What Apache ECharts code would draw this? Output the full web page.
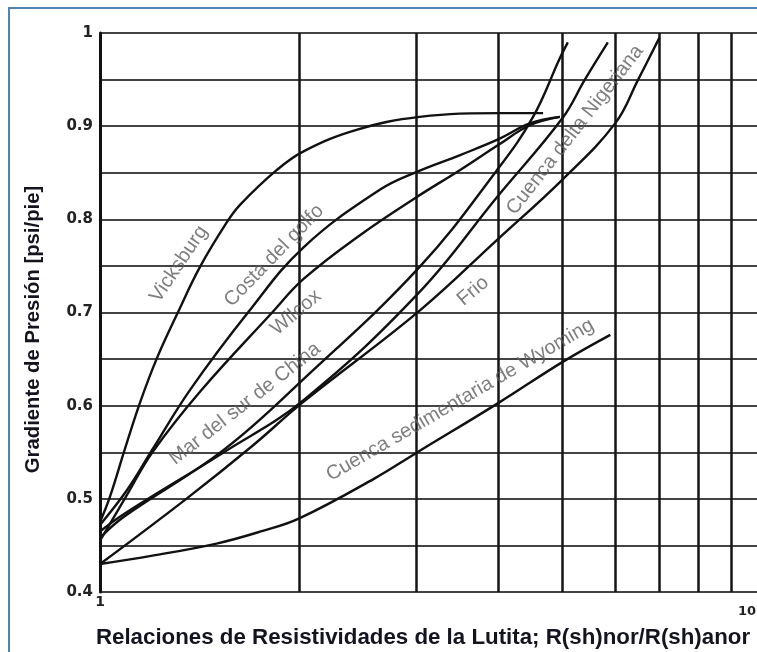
<!DOCTYPE html>
<html>
<head>
<meta charset="utf-8">
<script src="https://cdn.jsdelivr.net/npm/echarts/dist/echarts.min.js"></script>
<style>
html,body{margin:0;padding:0;background:#fff;}
#chart{width:757px;height:652px;}
</style>
</head>
<body>
<div id="chart"></div>
<script>
// ---- data (x = resistivity ratio, y = pressure gradient psi/ft) ----
const vicksburg = [[1,0.475],[1.035,0.502],[1.09,0.553],[1.149,0.603],[1.219,0.651],[1.311,0.70],[1.416,0.749],[1.555,0.797],[1.63,0.816],[1.85,0.853],[2.03,0.873],[2.44,0.896],[3.04,0.910],[4.02,0.914],[4.67,0.914]];
const costaGolfo = [[1,0.472],[1.1,0.51],[1.2,0.553],[1.368,0.617],[1.673,0.70],[2.03,0.770],[2.65,0.832],[3.01,0.851],[3.5,0.869],[4.0,0.886],[4.46,0.903],[4.95,0.91]];
const wilcox = [[1,0.455],[1.1,0.505],[1.2,0.55],[1.416,0.615],[1.82,0.70],[2.03,0.736],[2.47,0.783],[3.01,0.824],[3.5,0.853],[4.0,0.88],[4.46,0.901],[4.95,0.91]];
const marSurChina = [[1,0.458],[1.083,0.48],[1.534,0.552],[2.026,0.628],[3.04,0.749],[3.98,0.853],[4.51,0.91],[4.95,0.973],[5.09,0.99]];
const deltaNigeriana = [[1,0.465],[1.083,0.483],[1.53,0.549],[2.03,0.606],[3.03,0.721],[3.98,0.824],[5.0,0.909],[5.4,0.95],[5.85,0.99]];
const frio = [[1,0.43],[1.35,0.5],[1.7,0.557],[2.02,0.603],[3.04,0.702],[3.98,0.778],[5.0,0.843],[6.0,0.903],[6.5,0.95],[7.0,0.995]];
const wyoming = [[1,0.43],[1.2,0.439],[1.5,0.452],[1.75,0.465],[2,0.479],[2.6,0.522],[3,0.549],[4,0.603],[5,0.647],[5.9,0.676]];

const curveNames = ['Vicksburg','Costa del golfo','Wilcox','Mar del sur de China','Cuenca delta Nigeriana','Frio','Cuenca sedimentaria de Wyoming'];
const curveData = [vicksburg, costaGolfo, wilcox, marSurChina, deltaNigeriana, frio, wyoming];

// curve label anchors (data coordinates)
const labelPoints = [[1.316,0.752],[1.832,0.761],[1.977,0.700],[1.656,0.602],[5.22,0.896],[3.66,0.723],[3.50,0.606]];

const xGridValues = [2,3,4,5,6,7,8,9,10];
const xTickLabels = {1:'1', 10:'10'};
const yTickLabels = {40:'0.4',50:'0.5',60:'0.6',70:'0.7',80:'0.8',90:'0.9',100:'1'};

const xTitle = 'Relaciones de Resistividades de la Lutita; R(sh)nor/R(sh)anor';
const yTitle = 'Gradiente de Presión [psi/pie]';

// ---- styles ----
const labelAngles = [56,46,40,38,52,40,30];
const sansFont = '"Liberation Sans", Arial, sans-serif';

const chart = echarts.init(document.getElementById('chart'), null, {renderer:'canvas'});

const series = [];
series.push({
  type:'line', data:[[1,0.4]], symbol:'none', silent:true, z:2,
  lineStyle:{width:0},
  markLine:{
    silent:true, symbol:['none','none'], animation:false,
    label:{show:false},
    lineStyle:{type:'solid', color:'#151515', width:2.5},
    data: xGridValues.map(v => ({xAxis:v}))
  }
});
curveData.forEach((d,i) => {
  series.push({
    type:'line', name:curveNames[i], data:d, smooth:0.4, symbol:'none',
    lineStyle:{color:'#111', width:2.4}, z:5
  });
});
series.push({
  type:'scatter', symbolSize:0, z:6, silent:true,
  data: labelPoints.map((p,i) => ({value:p, label:{rotate:labelAngles[i], formatter:curveNames[i]}})),
  label:{show:true, position:'inside', color:'#5e5e5e', fontSize:20, fontFamily:sansFont}
});

chart.setOption({
  animation:false,
  backgroundColor:'#fff',
  grid:{left:100, top:33, width:662, height:559, containLabel:false, outerBoundsMode:'none'},
  xAxis:{
    type:'log', logBase:10, min:1, max:10,
    axisLine:{show:false}, axisTick:{show:false}, splitLine:{show:false},
    axisLabel:{
      margin:3,
      formatter: v => { const k = Math.round(v); return k === 1 ? '{a|' + xTickLabels[1] + '}' : '{b|' + xTickLabels[10] + '}'; },
      rich:{
        a:{fontFamily:'"DejaVu Sans"', fontWeight:'bold', fontSize:14, color:'#222'},
        b:{fontFamily:'"DejaVu Sans"', fontWeight:'bold', fontSize:13, color:'#222', padding:[10,6,0,0], align:'right'}
      },
      alignMaxLabel:'right'
    },
    name:xTitle, nameLocation:'middle', nameGap:35,
    nameTextStyle:{fontFamily:sansFont, fontWeight:'bold', fontSize:22.3, color:'#141420', padding:[0,16,0,0]}
  },
  yAxis:{
    type:'value', min:0.4, max:1, interval:0.05,
    axisLine:{show:true, lineStyle:{color:'#111', width:3}},
    axisTick:{show:false},
    splitLine:{show:true, lineStyle:{color:'#444', width:2}},
    axisLabel:{
      margin:7,
      formatter: v => { const k = Math.round(v*100); return yTickLabels[k] || ''; },
      fontFamily:'"DejaVu Sans"', fontWeight:'bold', fontSize:15, color:'#222'
    },
    name:yTitle, nameLocation:'middle', nameGap:57,
    nameTextStyle:{fontFamily:sansFont, fontWeight:'bold', fontSize:20.3, color:'#141420', padding:[0,34,0,0]}
  },
  graphic:[{
    type:'rect', silent:true, z:100,
    shape:{x:9, y:8, width:800, height:700},
    style:{fill:'none', stroke:'#4f81bd', lineWidth:2}
  }],
  series: series
});
</script>
</body>
</html>
